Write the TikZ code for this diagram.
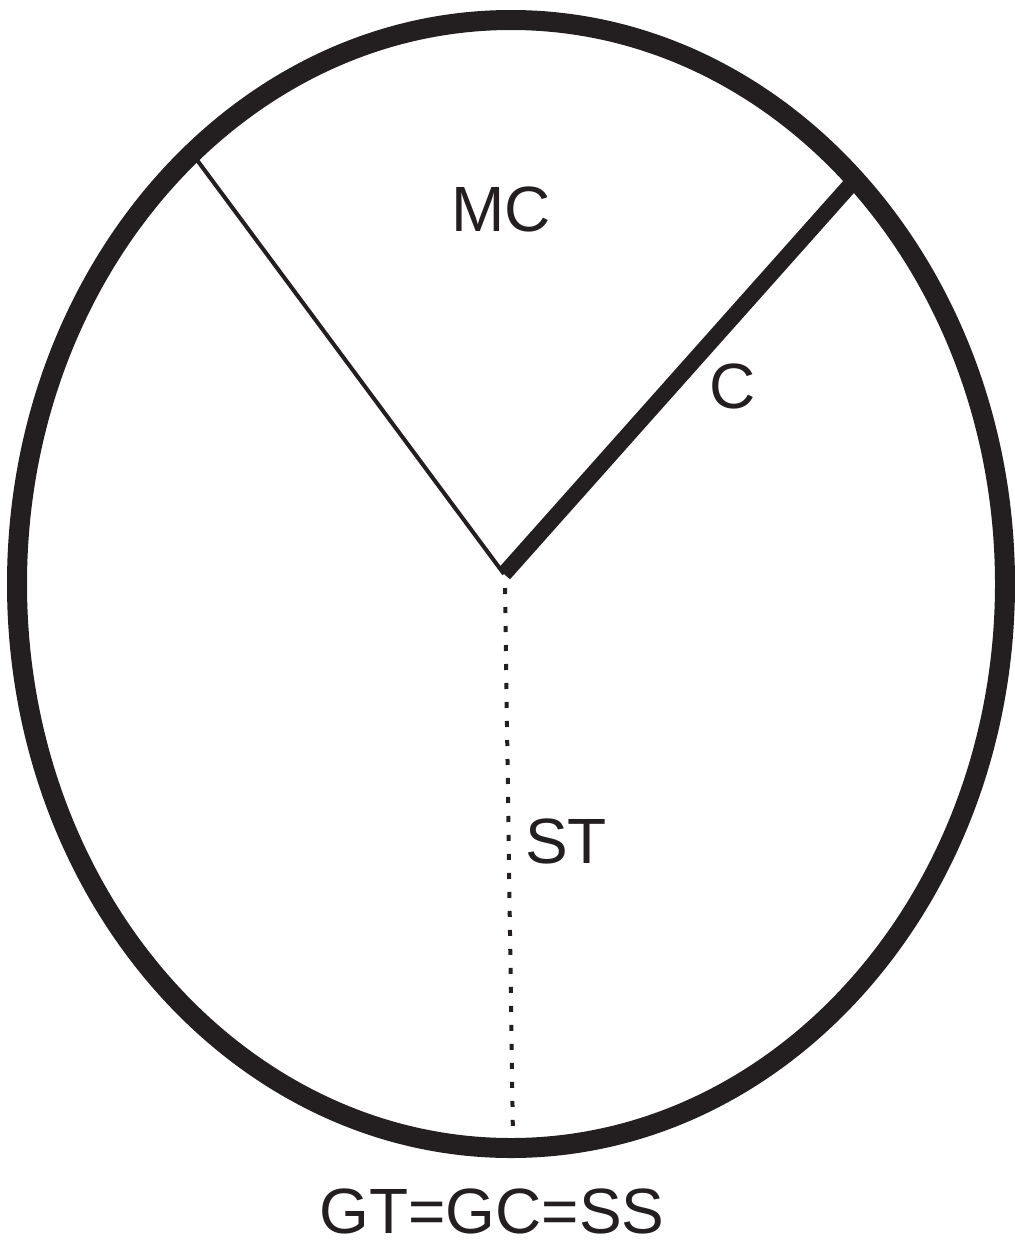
\documentclass[tikz,border=0pt]{standalone}
\usepackage{fontspec}
\setmainfont{Liberation Sans}
\definecolor{ink}{HTML}{231F20}
\begin{document}
\begin{tikzpicture}[x=0.5pt,y=-0.5pt,
  lbl/.style={text=ink,font=\fontsize{32}{38}\selectfont,inner sep=0pt}]
\useasboundingbox (0,0) rectangle (1014,1242);
\draw[ink,line width=10pt] (511,584) ellipse [x radius=494, y radius=564];
\coordinate (O) at (504,574);
\coordinate (L) at (197,160);
\coordinate (R) at (853,182);
\coordinate (B) at (513,1140);
\draw[ink,line width=2pt] (L) -- (O);
\draw[ink,line width=8pt] (O) -- (R);
\draw[ink,line width=2pt,dash pattern=on 3pt off 6.5pt] (505,588) -- (B);
\node[lbl] (mc) at (501,209) {MC};
\node[lbl] (c) at (733,386) {C};
\node[lbl] (st) at (566,841) {ST};
\node[lbl] (g) at (492,1211) {GT=GC=SS};
\end{tikzpicture}
\end{document}
